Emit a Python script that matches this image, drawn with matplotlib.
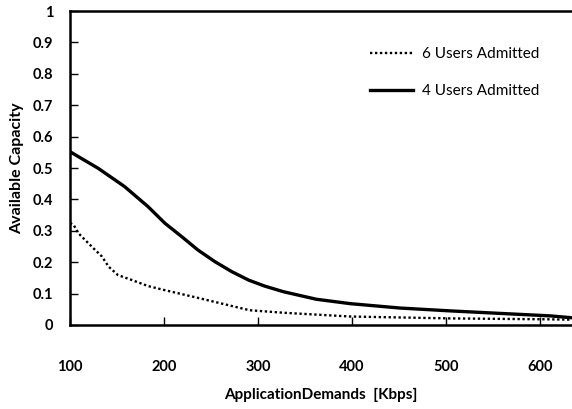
import matplotlib.pyplot as plt

plt.rcParams['font.family'] = ['Lato', 'DejaVu Sans']

# Application demand [Kbps] and available capacity
x_4_users = [100, 130, 158, 183, 201, 219, 236, 254, 272, 290, 307, 327, 362, 398,
             451, 504, 557, 611, 634]
cap_4_users = [0.552, 0.499, 0.441, 0.377, 0.324, 0.281, 0.239, 0.202, 0.170, 0.143,
               0.124, 0.106, 0.082, 0.068, 0.054, 0.045, 0.037, 0.029, 0.023]

x_6_users = [100, 104, 109, 123, 134, 141, 151, 166, 183, 198, 238, 291, 327, 398,
             504, 611, 634]
cap_6_users = [0.325, 0.318, 0.292, 0.250, 0.218, 0.186, 0.159, 0.143, 0.124, 0.113,
               0.085, 0.047, 0.039, 0.027, 0.021, 0.018, 0.017]

x_ticks = [100, 200, 300, 400, 500, 600]
y_ticks = [0, 0.1, 0.2, 0.3, 0.4, 0.5, 0.6, 0.7, 0.8, 0.9, 1]
y_labels = ['0', '0.1', '0.2', '0.3', '0.4', '0.5', '0.6', '0.7', '0.8', '0.9', '1']


def main():
    fig = plt.figure(figsize=(5.72, 4.09), dpi=100)
    ax = fig.add_axes([0.1224, 0.2054, 0.8776, 0.7676])

    ax.plot(x_6_users, cap_6_users, color='black', lw=1.7, linestyle=(0, (1, 1.1)),
            label='6 Users Admitted')
    ax.plot(x_4_users, cap_4_users, color='black', lw=2.4, label='4 Users Admitted')

    ax.set_xlim(100, 634)
    ax.set_ylim(0, 1)
    ax.set_xticks(x_ticks)
    ax.set_yticks(y_ticks)
    ax.set_yticklabels(y_labels)

    for side in ['left', 'bottom', 'top']:
        ax.spines[side].set_linewidth(1.8)
    ax.spines['right'].set_visible(False)

    ax.tick_params(axis='x', direction='in', length=6, width=1, pad=25, labelsize=10.5)
    ax.tick_params(axis='y', direction='in', length=6, width=1, pad=12, labelsize=10.5)
    for lab in ax.get_xticklabels() + ax.get_yticklabels():
        lab.set_fontweight('bold')

    ax.set_xlabel('ApplicationDemands  [Kbps]', fontsize=11, fontweight='bold', labelpad=10)
    ax.set_ylabel('Available Capacity', fontsize=11.5, fontweight='bold', labelpad=6)

    ax.legend(loc='upper left', bbox_to_anchor=(0.598, 0.885), frameon=False, fontsize=11,
              handlelength=2.8, labelspacing=1.5, handletextpad=0.6,
              borderpad=0, borderaxespad=0)

    fig.savefig('out.png', dpi=100)


if __name__ == "__main__":
    main()
